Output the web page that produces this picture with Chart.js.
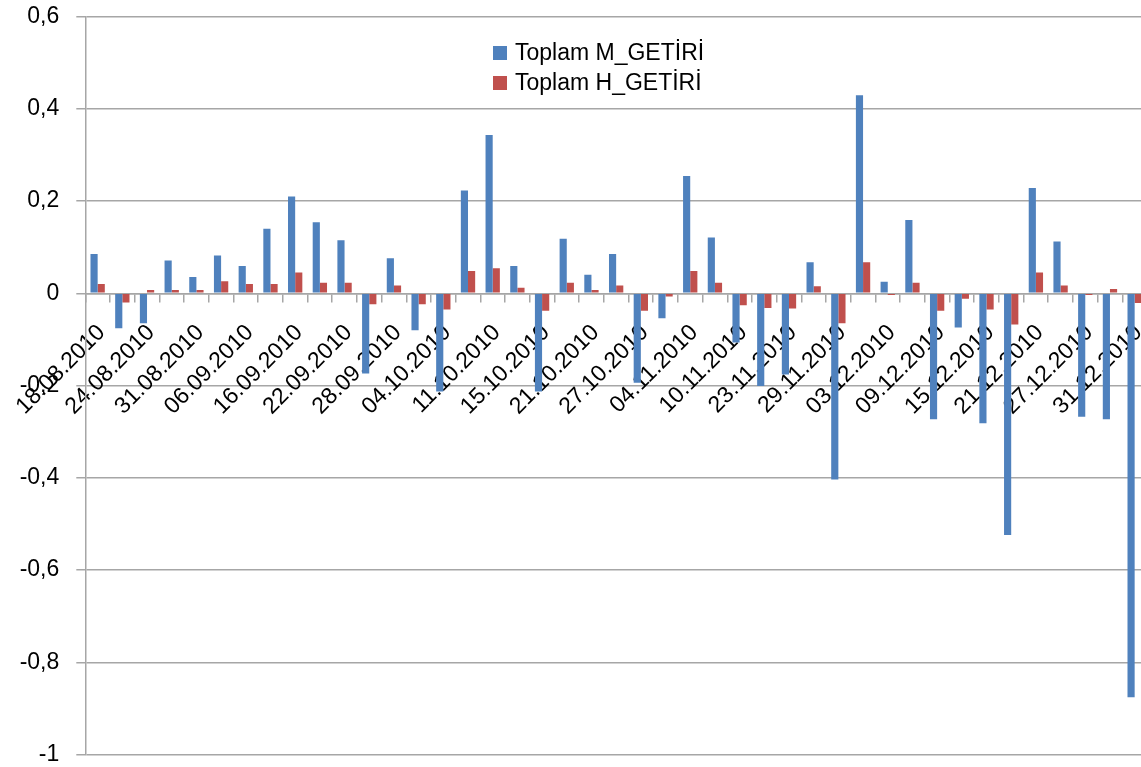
<!DOCTYPE html>
<html>
<head>
<meta charset="utf-8">
<script src="https://cdn.jsdelivr.net/npm/chart.js@4.4.1/dist/chart.umd.min.js"></script>
<style>
  html, body { margin: 0; padding: 0; background: #fff; overflow: hidden; }
  #wrap { width: 1147px; height: 767px; }
</style>
</head>
<body>
<div id="wrap"><canvas id="getiriChart" width="1147" height="767"></canvas></div>
<script>
// Date labels shown on the x axis (every second category)
const tickLabels = [
    '18.08.2010', '24.08.2010', '31.08.2010', '06.09.2010', '16.09.2010', '22.09.2010',
    '28.09.2010', '04.10.2010', '11.10.2010', '15.10.2010', '21.10.2010', '27.10.2010',
    '04.11.2010', '10.11.2010', '23.11.2010', '29.11.2010', '03.12.2010', '09.12.2010',
    '15.12.2010', '21.12.2010', '27.12.2010', '31.12.2010'
];

// 43 categories, only the even ones carry a label
const categories = [];
tickLabels.forEach(function(lbl, i) {
    categories.push(lbl);
    if (i < tickLabels.length - 1) categories.push('');
});

const mGetiri = [
    0.085, -0.076, -0.065, 0.071, 0.035, 0.082, 0.059, 0.140, 0.210, 0.154,
    0.115, -0.174, 0.076, -0.080, -0.213, 0.223, 0.343, 0.059, -0.213, 0.118,
    0.040, 0.085, -0.194, -0.054, 0.254, 0.121, -0.107, -0.201, -0.176, 0.067,
    -0.404, 0.429, 0.025, 0.159, -0.273, -0.074, -0.282, -0.524, 0.228, 0.112,
    -0.268, -0.273, -0.876
];

const hGetiri = [
    0.020, -0.020, 0.007, 0.007, 0.007, 0.026, 0.020, 0.020, 0.045, 0.023,
    0.023, -0.024, 0.017, -0.024, -0.035, 0.048, 0.054, 0.012, -0.038, 0.023,
    0.007, 0.017, -0.038, -0.007, 0.048, 0.023, -0.026, -0.032, -0.033, 0.015,
    -0.065, 0.067, -0.004, 0.023, -0.038, -0.012, -0.035, -0.068, 0.045, 0.017,
    -0.004, 0.009, -0.021
];

const gridGray = '#a6a6a6';

// legend drawn inside the plot, stacked like the Excel one
const innerLegend = {
    id: 'innerLegend',
    afterDraw: function(chart) {
        const c = chart.ctx;
        c.save();
        c.font = '23px "Liberation Sans", Arial, sans-serif';
        c.textBaseline = 'middle';
        c.textAlign = 'left';
        chart.data.datasets.forEach(function(ds, i) {
            const y = 53 + i * 30;
            c.fillStyle = ds.backgroundColor;
            c.fillRect(493, y - 7, 14, 14);
            c.fillStyle = '#000';
            c.fillText(ds.label, 515, y + 1);
        });
        c.restore();
    }
};

const ctx = document.getElementById('getiriChart').getContext('2d');
const chart = new Chart(ctx, {
    type: 'bar',
    data: {
        labels: categories,
        datasets: [
            {
                label: 'Toplam M_GETİRİ',
                data: mGetiri,
                backgroundColor: '#4F81BD',
                categoryPercentage: 0.58,
                barPercentage: 1.0,
            },
            {
                label: 'Toplam H_GETİRİ',
                data: hGetiri,
                backgroundColor: '#C0504D',
                categoryPercentage: 0.58,
                barPercentage: 1.0,
            },
        ],
    },
    options: {
        responsive: false,
        animation: false,
        devicePixelRatio: 1,
        layout: {
            padding: { top: 16.5, bottom: 12.5, left: 0, right: 0 }
        },
        plugins: {
            legend: { display: false },
            tooltip: { enabled: true },
        },
        scales: {
            x: {
                position: { y: 0 },
                grid: {
                    drawOnChartArea: false,
                    drawTicks: true,
                    tickLength: 8,
                    color: gridGray,
                    lineWidth: 1.5,
                    offset: true,
                },
                border: { display: true, color: gridGray, width: 1.5 },
                ticks: {
                    autoSkip: false,
                    maxRotation: 45,
                    minRotation: 45,
                    padding: 18,
                    labelOffset: 4,
                    color: '#000',
                    font: { family: '"Liberation Sans", Arial, sans-serif', size: 23 },
                },
                afterFit: function(s) {
                    s.paddingLeft = 0;
                    s.paddingRight = 0;
                },
            },
            y: {
                min: -1,
                max: 0.6,
                ticks: {
                    stepSize: 0.2,
                    padding: 17,
                    color: '#000',
                    font: { family: '"Liberation Sans", Arial, sans-serif', size: 23 },
                    callback: function(v) {
                        const r = Math.round(v * 10) / 10;
                        return String(r).replace('.', ',');
                    }
                },
                grid: {
                    color: gridGray,
                    lineWidth: 1.5,
                    tickLength: 9,
                },
                border: { display: true, color: gridGray, width: 1.5 },
                afterFit: function(s) {
                    s.width = 85.3;
                    s.paddingTop = 0;
                    s.paddingBottom = 0;
                },
            },
        },
    },
    plugins: [innerLegend],
});
</script>
</body>
</html>
